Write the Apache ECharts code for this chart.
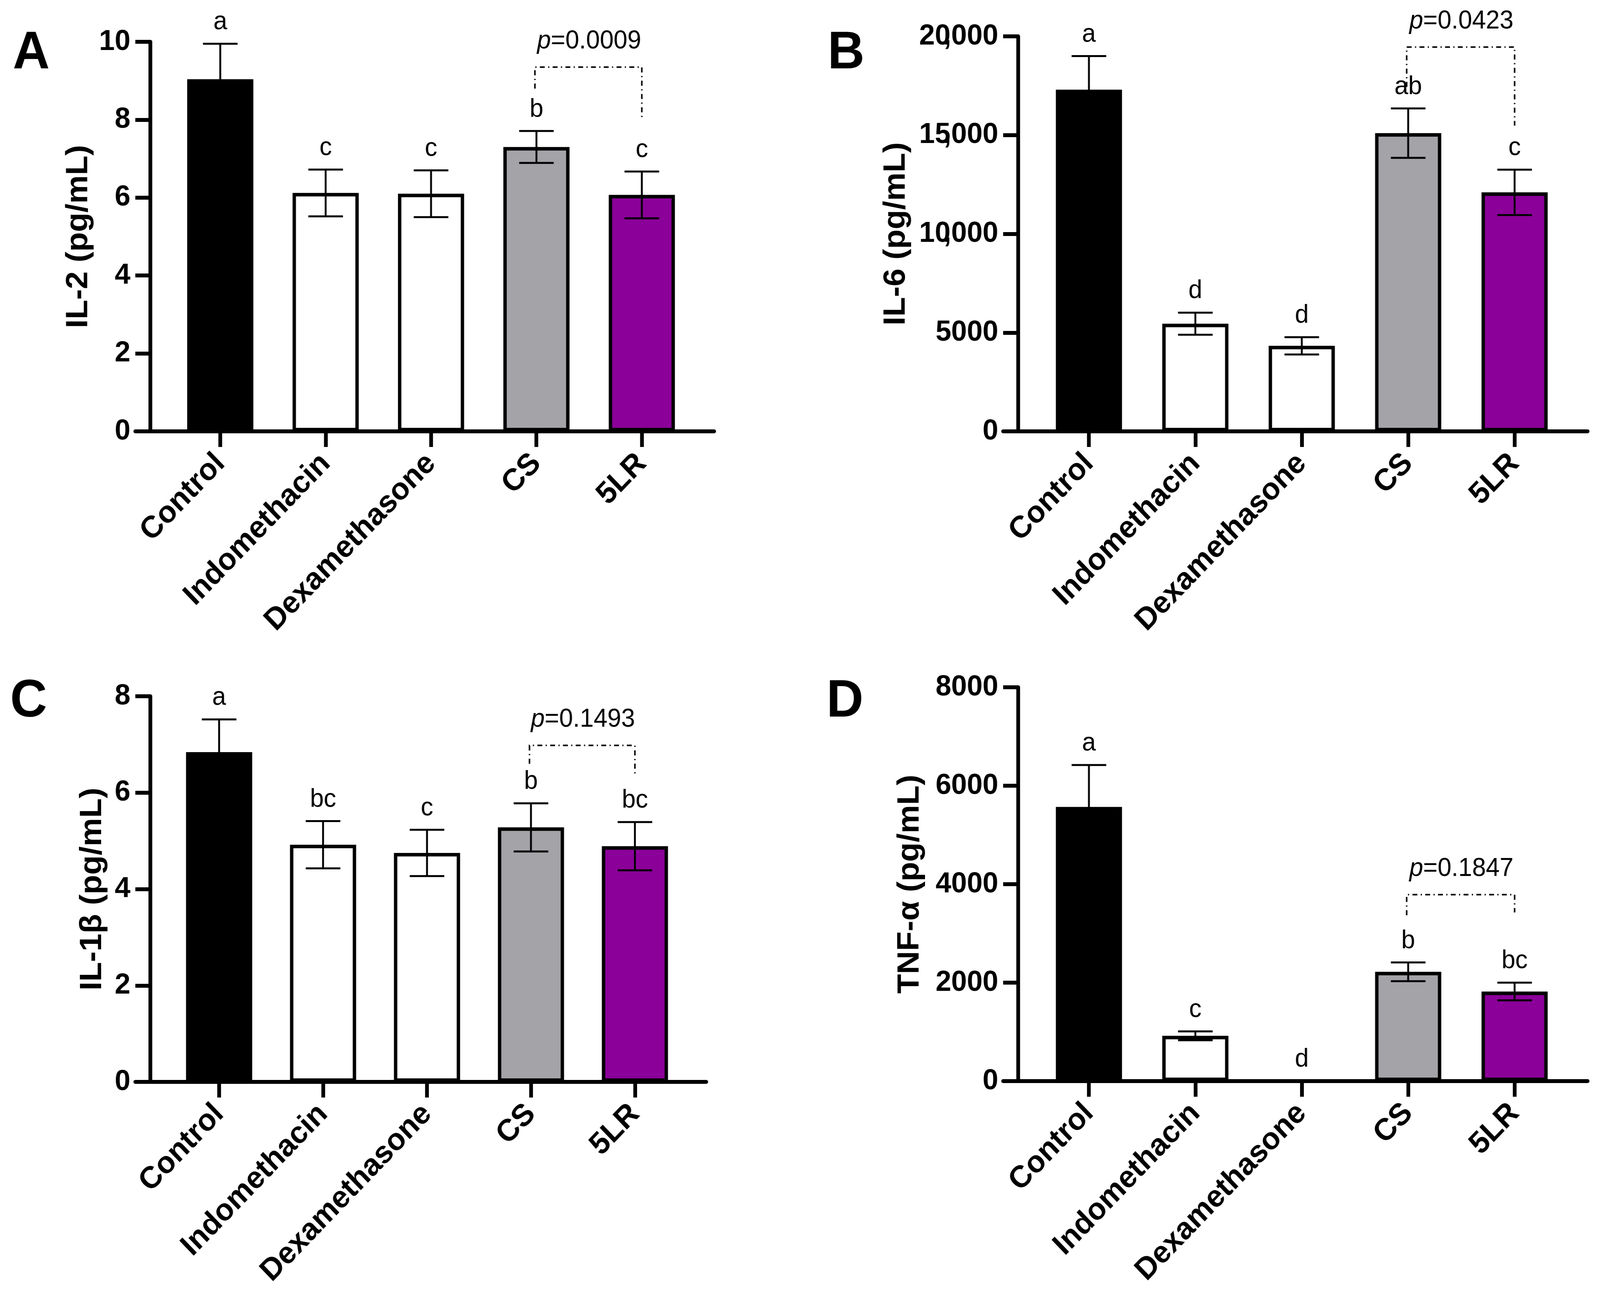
<!DOCTYPE html>
<html><head><meta charset="utf-8">
<script src="https://cdn.jsdelivr.net/npm/echarts@6/dist/echarts.min.js"></script>
<style>html,body{margin:0;padding:0;background:#fff;overflow:hidden}#c{width:4257px;height:3317px;transform-origin:0 0}</style>
</head><body><div id="c"></div>
<script>
// ---------- data ----------
const categories = ['Control', 'Indomethacin', 'Dexamethasone', 'CS', '5LR'];

const il2Mean = [9.04, 6.12, 6.10, 7.30, 6.07];
const il2Sem = [0.91, 0.60, 0.60, 0.41, 0.60];
const il2Letters = ['a', 'c', 'c', 'b', 'c'];
const il2Ticks = ['0', '2', '4', '6', '8', '10'];
const il2P = ['0.0009', 9.35, 8.80, 8.05];

const il6Mean = [17300, 5450, 4330, 15100, 12100];
const il6Sem = [1700, 560, 440, 1250, 1150];
const il6Letters = ['a', 'd', 'd', 'ab', 'c'];
const il6Ticks = ['0', '5000', '10,000', '15,000', '20,000'];
const il6P = ['0.0423', 19455, 17440, 15480];

const il1bMean = [6.84, 4.92, 4.75, 5.28, 4.89];
const il1bSem = [0.68, 0.49, 0.48, 0.50, 0.50];
const il1bLetters = ['a', 'bc', 'c', 'b', 'bc'];
const il1bTicks = ['0', '2', '4', '6', '8'];
const il1bP = ['0.1493', 6.98, 6.60, 6.38];

const tnfMean = [5570, 920, 0, 2220, 1820];
const tnfSem = [850, 90, 0, 190, 180];
const tnfLetters = ['a', 'c', 'd', 'b', 'bc'];
const tnfTicks = ['0', '2000', '4000', '6000', '8000'];
const tnfP = ['0.1847', 3788, 3370, 3426];

// ---------- styling / layout ----------
const W = 4257, H = 3317;
const FONT = '"Liberation Sans", Arial, Helvetica, sans-serif';
const barColors = ['#000000', '#FFFFFF', '#FFFFFF', '#A4A3A8', '#8B0099'];

const panels = [
  {tag: 'A', name: 'IL-2 (pg/mL)', mean: il2Mean, sem: il2Sem, letters: il2Letters, ticks: il2Ticks, p: il2P,
   max: 10, interval: 2, grid: {left: 360, top: 107, width: 1540, height: 997}, nameGap: 150, tagPos: [34, 137]},
  {tag: 'B', name: 'IL-6 (pg/mL)', mean: il6Mean, sem: il6Sem, letters: il6Letters, ticks: il6Ticks, p: il6P,
   max: 20000, interval: 5000, grid: {left: 2669, top: 93, width: 1555, height: 1011}, nameGap: 284, tagPos: [2202, 137]},
  {tag: 'C', name: 'IL-1β (pg/mL)', mean: il1bMean, sem: il1bSem, letters: il1bLetters, ticks: il1bTicks, p: il1bP,
   max: 8, interval: 2, grid: {left: 360, top: 1782, width: 1519, height: 987}, nameGap: 113, tagPos: [27, 1796]},
  {tag: 'D', name: 'TNF-α (pg/mL)', mean: tnfMean, sem: tnfSem, letters: tnfLetters, ticks: tnfTicks, p: tnfP,
   max: 8000, interval: 2000, grid: {left: 2669, top: 1759, width: 1555, height: 1008}, nameGap: 247, tagPos: [2199, 1796]}
];

const tickFont = {fontSize: 75, fontWeight: 'bold', fontFamily: FONT, color: '#000'};
const idx = categories.map((c, i) => i);
const grids = [], xAxes = [], yAxes = [], series = [], graphics = [];

panels.forEach((P, i) => {
  grids.push(Object.assign({containLabel: false}, P.grid));
  xAxes.push({
    gridIndex: i, type: 'value', min: -0.806, max: 4.686,
    axisLine: {show: true, onZero: false, lineStyle: {color: '#000', width: 10}},
    axisTick: {show: true, customValues: idx, length: 40, lineStyle: {color: '#000', width: 10}},
    axisLabel: {show: true, customValues: idx, rotate: 45, margin: 70, fontSize: 79, fontWeight: 'bold',
      fontFamily: FONT, color: '#000', formatter: v => categories[Math.round(v)]},
    splitLine: {show: false}
  });
  yAxes.push({
    gridIndex: i, type: 'value', min: 0, max: P.max, interval: P.interval, offset: -40,
    name: P.name, nameLocation: 'middle', nameGap: P.nameGap,
    nameTextStyle: {fontSize: 82, fontWeight: 'bold', fontFamily: FONT, color: '#000'},
    axisLine: {show: true, onZero: false, lineStyle: {color: '#000', width: 10}},
    axisTick: {show: true, length: 40, lineStyle: {color: '#000', width: 10}},
    axisLabel: Object.assign({margin: 53,
      // thousands comma tucked between digits (takes no width), as in the original figure
      formatter: v => P.ticks[Math.round(v / P.interval)].replace(',', '{c|,}'),
      rich: {c: Object.assign({width: 2}, tickFont)}}, tickFont),
    splitLine: {show: false}
  });

  // bars
  series.push({
    type: 'bar', xAxisIndex: i, yAxisIndex: i, barWidth: 176, silent: true,
    itemStyle: {borderColor: '#000', borderWidth: 9},
    data: P.mean.map((v, j) => ({value: [j, v], itemStyle: {color: barColors[j]}})),
    z: 2
  });
  // error bars (mean ± SEM)
  series.push({
    type: 'custom', xAxisIndex: i, yAxisIndex: i, silent: true, z: 3,
    data: P.mean.map((v, j) => [j, v, P.sem[j]]),
    renderItem: (params, api) => {
      const x = api.value(0), m = api.value(1), s = api.value(2);
      if (!s) return null;
      const t = api.coord([x, m + s]), b = api.coord([x, m - s]);
      const hw = 46, st = {stroke: '#000', lineWidth: 5};
      return {type: 'group', children: [
        {type: 'line', shape: {x1: t[0], y1: t[1], x2: b[0], y2: b[1]}, style: st},
        {type: 'line', shape: {x1: t[0] - hw, y1: t[1], x2: t[0] + hw, y2: t[1]}, style: st},
        {type: 'line', shape: {x1: b[0] - hw, y1: b[1], x2: b[0] + hw, y2: b[1]}, style: st}
      ]};
    }
  });
  // significance letters
  series.push({
    type: 'custom', xAxisIndex: i, yAxisIndex: i, silent: true, z: 4,
    data: P.mean.map((v, j) => [j, v + P.sem[j]]),
    renderItem: (params, api) => {
      const p = api.coord([api.value(0), api.value(1)]);
      return {type: 'text', x: p[0], y: p[1] - 22, style: {
        text: P.letters[params.dataIndex], fontSize: 66, fontFamily: FONT, fill: '#000',
        align: 'center', verticalAlign: 'bottom'}};
    }
  });
  // p-value bracket CS vs 5LR
  series.push({
    type: 'custom', xAxisIndex: i, yAxisIndex: i, silent: true, z: 4, clip: false,
    data: [[3, 4, P.p[1], P.p[2], P.p[3]]],
    renderItem: (params, api) => {
      const l = api.coord([api.value(0), api.value(2)]), r = api.coord([api.value(1), api.value(2)]);
      const le = api.coord([api.value(0), api.value(3)]), re = api.coord([api.value(1), api.value(4)]);
      return {type: 'group', children: [
        {type: 'polyline', shape: {points: [[le[0] - 4, le[1]], [l[0] - 4, l[1]], [r[0], r[1]], [re[0], re[1]]]},
         style: {stroke: '#000', lineWidth: 4, lineDash: [13, 9, 3, 9], fill: null}},
        {type: 'text', x: (l[0] + r[0]) / 2, y: l[1] - 66, style: {
          text: '{i|p}=' + P.p[0], fontSize: 66, fontFamily: FONT, fill: '#000',
          align: 'center', verticalAlign: 'middle',
          rich: {i: {fontStyle: 'italic', fontSize: 66, fontFamily: FONT, fill: '#000'}}}}
      ]};
    }
  });

  graphics.push({type: 'text', x: P.tagPos[0], y: P.tagPos[1], style: {
    text: P.tag, fontSize: 136, fontWeight: 'bold', fontFamily: FONT, fill: '#000',
    align: 'left', verticalAlign: 'middle'}});
});

// make the design-size figure fill the actual viewport exactly
const host = document.getElementById('c');
const vw = document.documentElement.clientWidth || window.innerWidth || W;
const vh = document.documentElement.clientHeight || window.innerHeight || H;
const sx = vw / W, sy = vh / H;
if (Math.abs(sx - 1) > 0.001 || Math.abs(sy - 1) > 0.001) {
  host.style.transform = 'scale(' + sx + ',' + sy + ')';
}

const chart = echarts.init(host, null, {renderer: 'canvas', width: W, height: H});
chart.setOption({
  backgroundColor: '#ffffff',
  animation: false,
  grid: grids, xAxis: xAxes, yAxis: yAxes, series: series, graphic: graphics
});
</script></body></html>
